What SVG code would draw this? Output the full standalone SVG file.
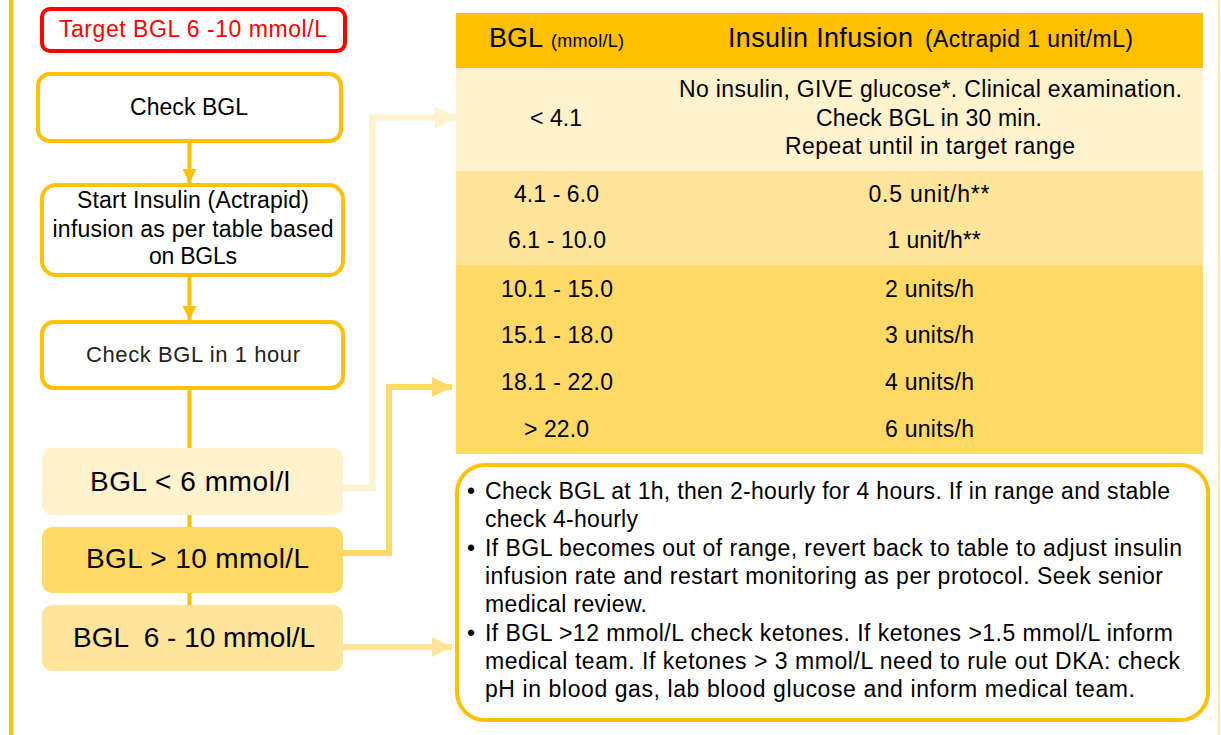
<svg xmlns="http://www.w3.org/2000/svg" width="1221" height="735" viewBox="0 0 1221 735">
<style>
text{font-family:"Liberation Sans",Arial,sans-serif;fill:#000}
.box{fill:#fff;stroke:#FFC000;stroke-width:4}
.c{text-anchor:middle}
.flow{stroke:#FFC000;stroke-width:4;fill:none}
.t23{font-size:23px}
.n22{font-size:23px}
.big{font-size:28px}
</style>
<defs>
<marker id="hGold" markerUnits="userSpaceOnUse" markerWidth="16" markerHeight="14" refX="14" refY="7" orient="auto"><path d="M0,0 L14,7 L0,14 Z" fill="#FFC000"/></marker>
<marker id="hLight" markerUnits="userSpaceOnUse" markerWidth="24" markerHeight="22" refX="22" refY="11" orient="auto"><path d="M0,0 L22,11 L0,22 Z" fill="#FFF2CC"/></marker>
<marker id="hDark" markerUnits="userSpaceOnUse" markerWidth="22" markerHeight="22" refX="20" refY="10" orient="auto"><path d="M0,0 L20,10 L0,20 Z" fill="#FFD966"/></marker>
<marker id="hMid" markerUnits="userSpaceOnUse" markerWidth="22" markerHeight="22" refX="20" refY="10" orient="auto"><path d="M0,0 L20,10 L0,20 Z" fill="#FFE599"/></marker>
</defs>
<rect width="1221" height="735" fill="#fff"/>
<line x1="11" y1="0" x2="11" y2="735" stroke="#FFC000" stroke-width="4"/>
<line x1="1219" y1="0" x2="1219" y2="735" stroke="#FFE38F" stroke-width="1.5"/>

<g id="connectors">
<line class="flow" x1="189.5" y1="390" x2="189.5" y2="640"/>
<line class="flow" x1="189.5" y1="143" x2="189.5" y2="183" marker-end="url(#hGold)"/>
<line class="flow" x1="189.5" y1="277" x2="189.5" y2="320" marker-end="url(#hGold)"/>
<path d="M343,488 H372.5 V117.5 H457" fill="none" stroke="#FFF2CC" stroke-width="6" marker-end="url(#hLight)"/>
<path d="M343,553 H389 V387 H452" fill="none" stroke="#FFD966" stroke-width="6" marker-end="url(#hDark)"/>
<path d="M343,647 H452" fill="none" stroke="#FFE599" stroke-width="6" marker-end="url(#hMid)"/>
</g>

<g id="target">
<rect x="42" y="9" width="303" height="42" rx="8" fill="#fff" stroke="#FF0000" stroke-width="4"/>
<text x="193" y="37" class="c t23" style="fill:#FF0000" textLength="268">Target BGL 6 -10 mmol/L</text>
</g>
<g id="check-bgl">
<rect class="box" x="38" y="74" width="303" height="67" rx="12"/>
<text x="189" y="115" class="c t23" textLength="118">Check BGL</text>
</g>
<g id="start-insulin">
<rect class="box" x="42" y="185" width="301" height="90" rx="14"/>
<text x="193" y="208" class="c t23" textLength="232">Start Insulin (Actrapid)</text>
<text x="193" y="237" class="c t23" textLength="281">infusion as per table based</text>
<text x="193" y="264" class="c t23" textLength="88">on BGLs</text>
</g>
<g id="check-1h">
<rect class="box" x="42" y="322" width="301" height="66" rx="12"/>
<text x="193" y="362" class="c" style="font-size:22px;fill:#222" textLength="214">Check BGL in 1 hour</text>
</g>
<g id="bgl-low">
<rect x="42" y="448" width="301" height="67" rx="10" fill="#FFF2CC"/>
<text x="190" y="491" class="c big" textLength="200">BGL &lt; 6 mmol/l</text>
</g>
<g id="bgl-high">
<rect x="42" y="527" width="301" height="66" rx="10" fill="#FFD966"/>
<text x="197.5" y="568" class="c big" textLength="223">BGL &gt; 10 mmol/L</text>
</g>
<g id="bgl-target">
<rect x="42" y="605" width="301" height="66" rx="10" fill="#FFE599"/>
<text x="194" y="647" class="c big" textLength="242" xml:space="preserve">BGL  6 - 10 mmol/L</text>
</g>

<g id="table">
<rect x="456" y="13" width="747" height="55" fill="#FFC000"/>
<rect x="456" y="68" width="747" height="103" fill="#FFF2CC"/>
<rect x="456" y="171" width="747" height="94" fill="#FFE599"/>
<rect x="456" y="265" width="747" height="189" fill="#FFD966"/>
<text x="489" y="47" style="font-size:27px" textLength="54">BGL</text>
<text x="551" y="47" style="font-size:18px" textLength="73">(mmol/L)</text>
<text x="728" y="47" style="font-size:27px" textLength="185">Insulin Infusion</text>
<text x="925" y="47" style="font-size:23px" textLength="208">(Actrapid 1 unit/mL)</text>
<text x="556" y="126" class="c t23" textLength="52">&lt; 4.1</text>
<text x="930.5" y="97" class="c t23" textLength="503">No insulin, GIVE glucose*. Clinical examination.</text>
<text x="929" y="126" class="c t23" textLength="226">Check BGL in 30 min.</text>
<text x="930" y="154" class="c t23" textLength="290">Repeat until in target range</text>
<text x="556.5" y="202" class="c t23" textLength="85">4.1 - 6.0</text>
<text x="929" y="202" class="c t23" textLength="121">0.5 unit/h**</text>
<text x="557" y="248" class="c t23" textLength="98">6.1 - 10.0</text>
<text x="934" y="248" class="c t23">1 unit/h**</text>
<text x="557" y="297" class="c t23" textLength="112">10.1 - 15.0</text>
<text x="885" y="297" class="t23" textLength="89">2 units/h</text>
<text x="557" y="343" class="c t23" textLength="112">15.1 - 18.0</text>
<text x="885" y="343" class="t23" textLength="89">3 units/h</text>
<text x="557" y="390" class="c t23" textLength="112">18.1 - 22.0</text>
<text x="885" y="390" class="t23" textLength="89">4 units/h</text>
<text x="556.5" y="437" class="c t23" textLength="65">&gt; 22.0</text>
<text x="885" y="437" class="t23" textLength="89">6 units/h</text>
</g>

<g id="notes">
<rect x="457" y="465" width="751" height="255" rx="28" fill="#fff" stroke="#FFC000" stroke-width="4"/>
<text x="467" y="499" class="n22">•</text>
<text x="485" y="499" class="n22" textLength="685">Check BGL at 1h, then 2-hourly for 4 hours. If in range and stable</text>
<text x="485" y="527" class="n22" textLength="153">check 4-hourly</text>
<text x="467" y="555.5" class="n22">•</text>
<text x="485" y="555.5" class="n22" textLength="697">If BGL becomes out of range, revert back to table to adjust insulin</text>
<text x="485" y="584" class="n22" textLength="678">infusion rate and restart monitoring as per protocol. Seek senior</text>
<text x="485" y="612" class="n22" textLength="162">medical review.</text>
<text x="467" y="640.5" class="n22">•</text>
<text x="485" y="640.5" class="n22" textLength="688">If BGL &gt;12 mmol/L check ketones. If ketones &gt;1.5 mmol/L inform</text>
<text x="485" y="668.5" class="n22" textLength="695">medical team. If ketones &gt; 3 mmol/L need to rule out DKA: check</text>
<text x="485" y="697" class="n22" textLength="650">pH in blood gas, lab blood glucose and inform medical team.</text>
</g>
</svg>
